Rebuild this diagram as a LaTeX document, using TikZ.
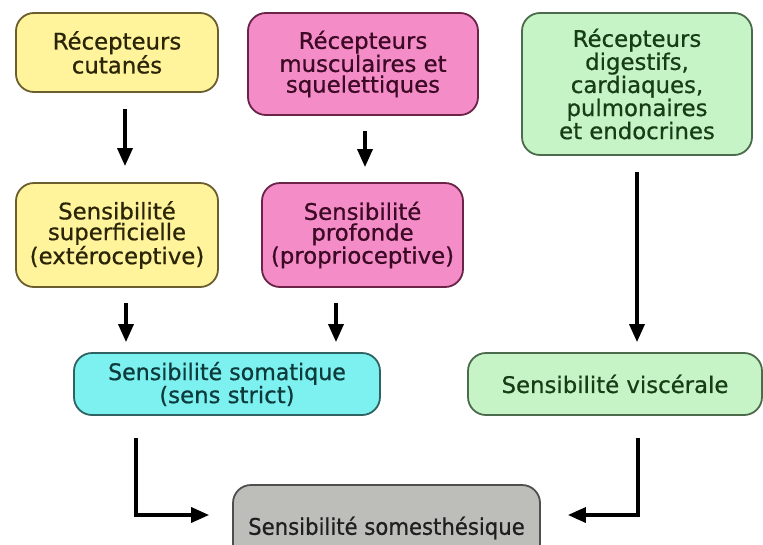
\documentclass[tikz,border=0pt]{standalone}
\usepackage{fontspec}
\setmainfont{DejaVu Sans}
\newfontfamily\boxfont[FakeBold=0.7]{DejaVu Sans}
\usetikzlibrary{arrows.meta}
\definecolor{yfill}{HTML}{FFF39B}\definecolor{yline}{HTML}{6B5E2E}\definecolor{ytext}{HTML}{2B2508}
\definecolor{pfill}{HTML}{F48CC8}\definecolor{pline}{HTML}{6A2448}\definecolor{ptext}{HTML}{3C0A24}
\definecolor{gfill}{HTML}{C6F4C6}\definecolor{gline}{HTML}{4C6B4C}\definecolor{gtext}{HTML}{173D17}
\definecolor{cfill}{HTML}{7DF0F0}\definecolor{cline}{HTML}{2F6363}\definecolor{ctext}{HTML}{0D3A3A}
\definecolor{afill}{HTML}{BDBDBA}\definecolor{aline}{HTML}{4F4F4F}\definecolor{atext}{HTML}{1F1F1F}
\begin{document}
\begin{tikzpicture}[x=1pt,y=-1pt,
  box/.style={draw, line width=1.8pt, rounded corners=18pt, align=center, inner sep=0pt,
    font=\boxfont\fontsize{22.8}{20.75}\selectfont},
  ybox/.style={box, fill=yfill, draw=yline, text=ytext},
  pbox/.style={box, fill=pfill, draw=pline, text=ptext},
  gbox/.style={box, fill=gfill, draw=gline, text=gtext},
  cbox/.style={box, fill=cfill, draw=cline, text=ctext},
  abox/.style={box, fill=afill, draw=aline, text=atext},
  arr/.style={line width=3.5pt, black, -{Triangle[width=15pt,length=18pt]}}]
\useasboundingbox (0,0) rectangle (763,544);
\clip (0,0) rectangle (763,544);
\fill[white] (0,0) rectangle (763,544);

\node[ybox, minimum width=202pt, minimum height=79pt] (b1) at (117,52.5) {Récepteurs\\cutanés};
\node[pbox, minimum width=230pt, minimum height=102pt] (b2) at (363,64) {Récepteurs\\musculaires et\\squelettiques};
\node[gbox, minimum width=230pt, minimum height=142pt] (b3) at (637,84) {Récepteurs\\digestifs,\\cardiaques,\\pulmonaires\\et endocrines};
\node[ybox, minimum width=202pt, minimum height=104pt] (b4) at (117,235) {Sensibilité\\superficielle\\(extéroceptive)};
\node[pbox, minimum width=201pt, minimum height=104pt] (b5) at (362.5,235) {Sensibilité\\profonde\\(proprioceptive)};
\node[cbox, minimum width=306pt, minimum height=62pt] (b6) at (227,384) {\scalebox{0.97}[1]{Sensibilité somatique}\\(sens strict)};
\node[gbox, minimum width=294pt, minimum height=62pt] (b7) at (615,384) {Sensibilité viscérale};
\node[abox, minimum width=307pt, minimum height=86pt] (b8) at (386.5,528) {\scalebox{0.93}[1]{Sensibilité somesthésique}};

\draw[arr] ([shift={(8,16)}]b1.south) -- ([shift={(8,-16)}]b4.north);
\draw[arr] ([shift={(2,15)}]b2.south) -- ([shift={(2.5,-15)}]b5.north);
\draw[arr] ([shift={(0,16)}]b3.south) -- ([shift={(22,-10)}]b7.north);
\draw[arr] ([shift={(9,15)}]b4.south) -- ([shift={(-101,-10)}]b6.north);
\draw[arr] ([shift={(-26.5,15)}]b5.south) -- ([shift={(109,-10)}]b6.north);
\draw[arr] ([shift={(-91,22)}]b6.south) |- ([shift={(-23,-13)}]b8.west);
\draw[arr] ([shift={(23,22)}]b7.south) |- ([shift={(27,-13)}]b8.east);
\end{tikzpicture}
\end{document}
